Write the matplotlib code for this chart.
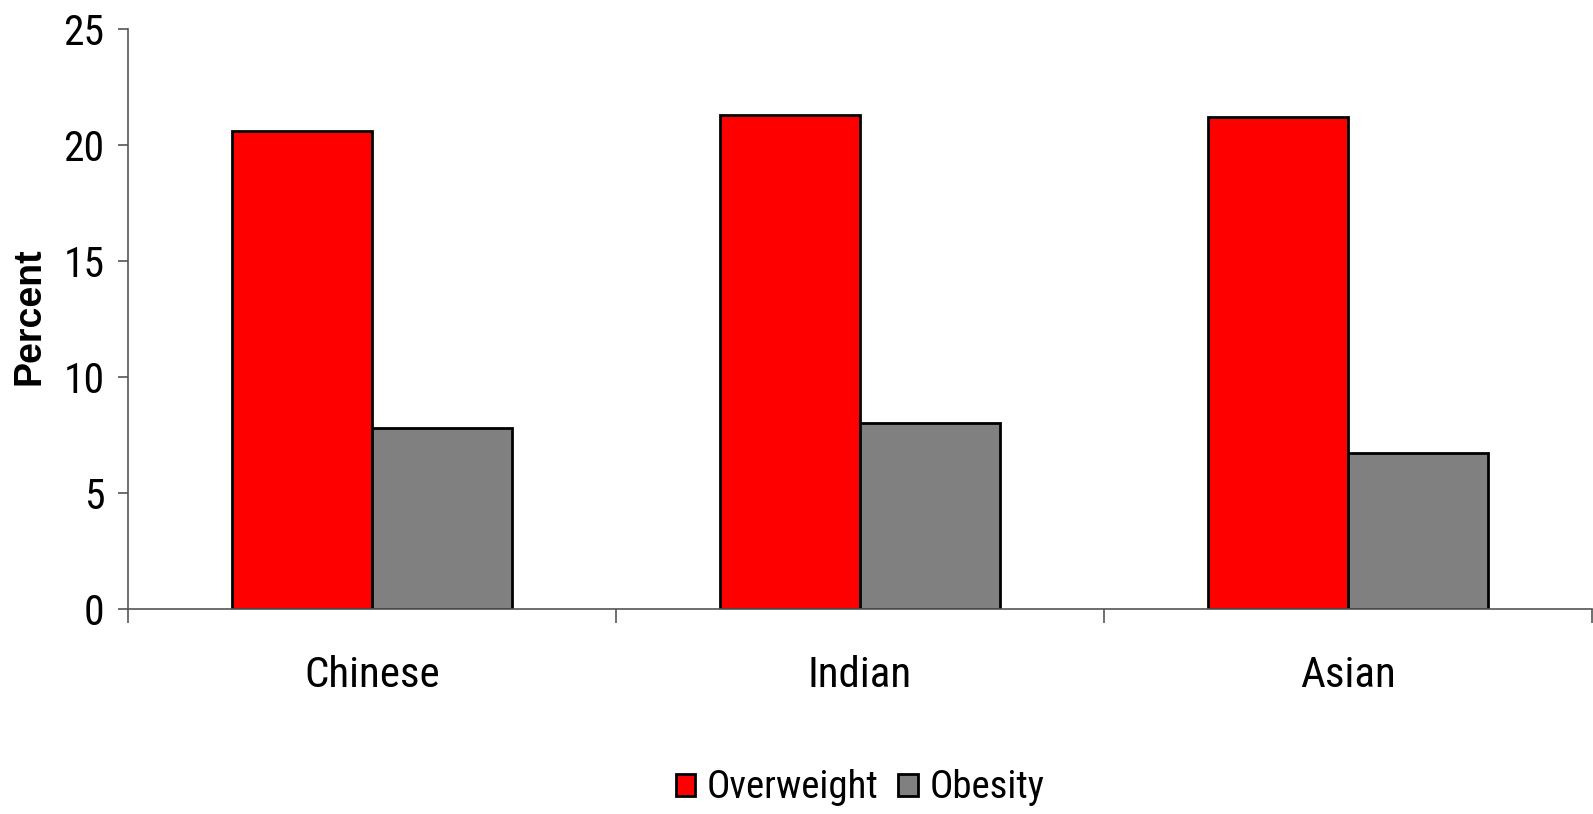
import matplotlib
matplotlib.use("Agg")
import matplotlib.pyplot as plt
import numpy as np

categories = ["Chinese", "Indian", "Asian"]
overweight = [20.6, 21.3, 21.2]
obesity = [7.8, 8.0, 6.7]
series_names = ["Overweight", "Obesity"]
yticks = [0, 5, 10, 15, 20, 25]

NARROW = ["Roboto Condensed", "Archivo Narrow", "Liberation Sans", "DejaVu Sans"]
plt.rcParams["font.family"] = NARROW

fig = plt.figure(figsize=(15.93, 8.14), dpi=100)
ax = fig.add_axes([0.0804, 0.2522, 0.9190, 0.7118])

x = np.arange(len(categories)) + 0.5
w = 0.287
ax.bar(x - w / 2, overweight, width=w, color="#ff0000", edgecolor="black",
       linewidth=2.0, label=series_names[0], zorder=3)
ax.bar(x + w / 2, obesity, width=w, color="#808080", edgecolor="black",
       linewidth=2.0, label=series_names[1], zorder=3)

ax.set_xlim(0, len(categories))
ax.set_ylim(0, 25)
ax.set_yticks(yticks)
ax.set_yticklabels([str(v) for v in yticks], fontsize=30)

ax.set_xticks(np.arange(len(categories) + 1))
ax.set_xticklabels([])
ax.set_xticks(x, minor=True)
ax.set_xticklabels(categories, minor=True, fontsize=31)
ax.tick_params(axis="x", which="major", direction="out", length=10,
               width=1.2, color="#555555")
ax.tick_params(axis="x", which="minor", length=0, pad=33)
ax.tick_params(axis="y", direction="out", length=7, width=1.2,
               color="#555555", pad=10)

for s in ["top", "right"]:
    ax.spines[s].set_visible(False)
for s in ["left", "bottom"]:
    ax.spines[s].set_color("#555555")
    ax.spines[s].set_linewidth(1.2)
ax.spines["bottom"].set_zorder(4)

fig.text(0.0185, 0.612, "Percent", rotation=90, ha="center", va="center",
         fontsize=27, fontweight="bold",
         family=["Liberation Sans", "DejaVu Sans"])

leg = fig.legend(loc="center", bbox_to_anchor=(0.540, 0.032), ncol=2,
                 frameon=False, fontsize=28, handlelength=0.5,
                 handleheight=0.5, handletextpad=0.3, columnspacing=0.5)

fig.savefig("out.png", dpi=100)
